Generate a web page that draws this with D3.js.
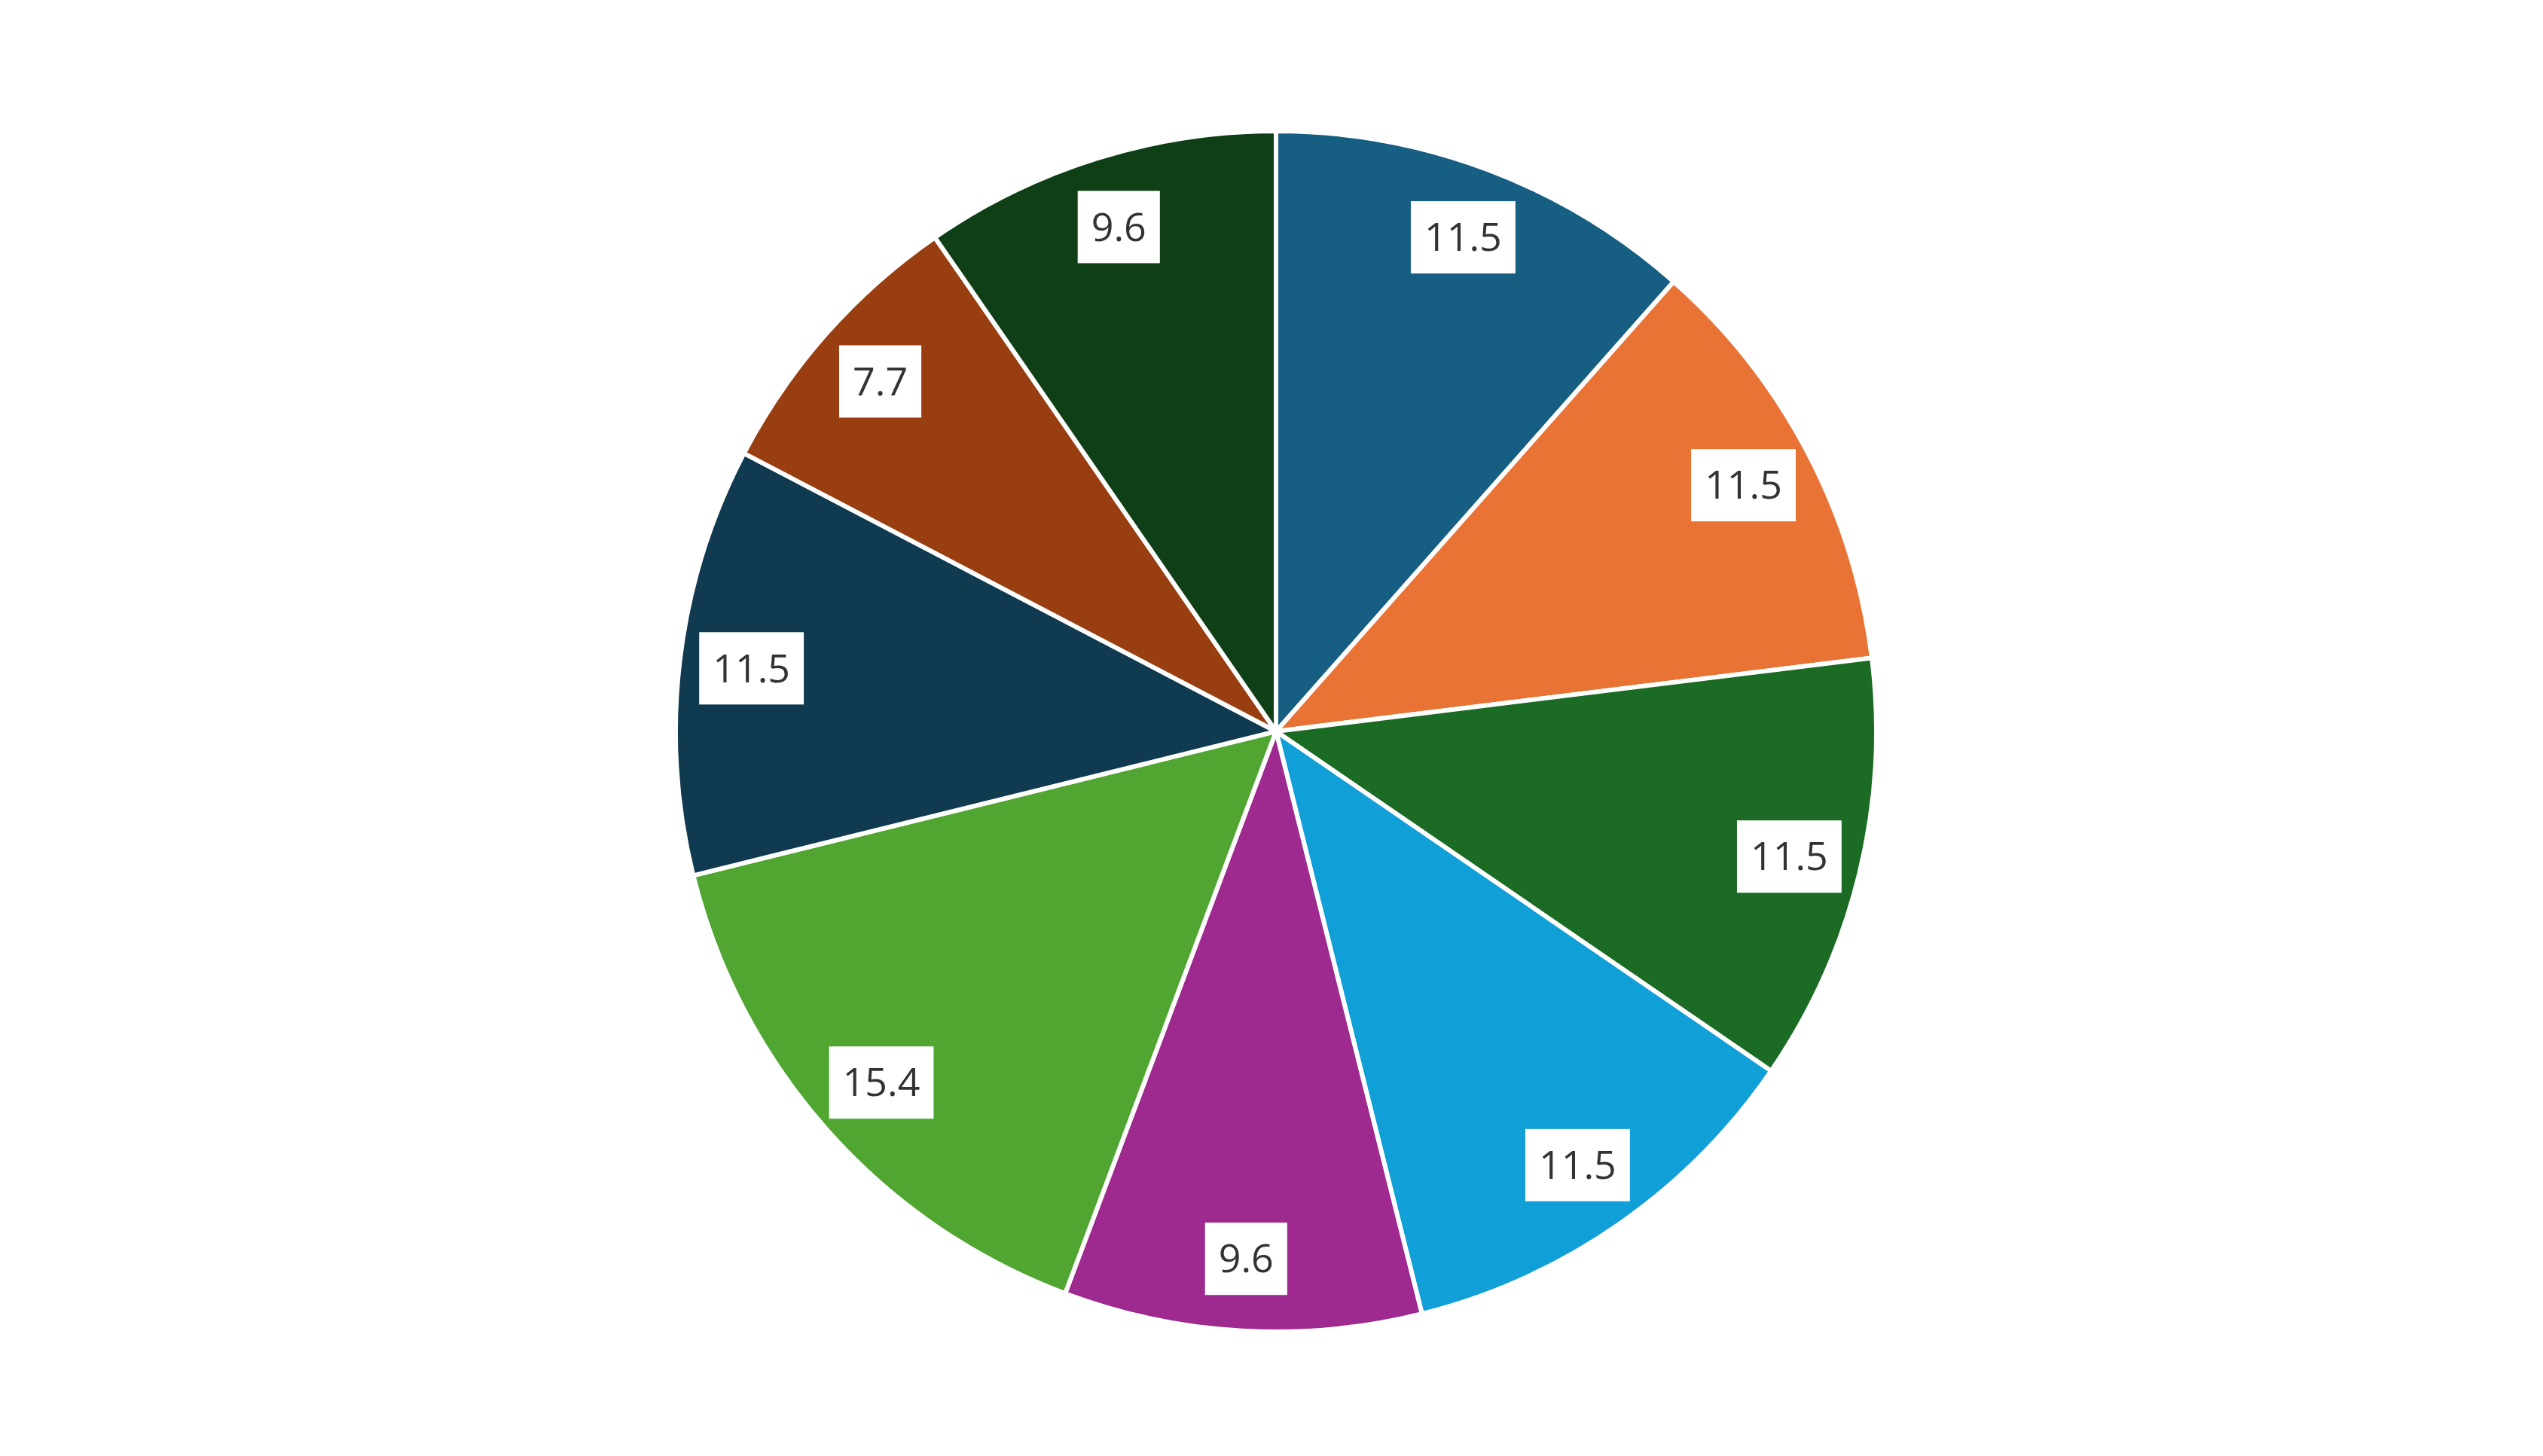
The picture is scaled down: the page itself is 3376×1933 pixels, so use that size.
<!DOCTYPE html>
<html>
<head>
<meta charset="utf-8">
<script src="https://cdn.jsdelivr.net/npm/d3@7"></script>
<style>
  body { margin: 0; background: #fff; }
  text { font-family: "Open Sans", "DejaVu Sans", sans-serif; }
</style>
</head>
<body>
<div id="chart"></div>
<script>
// slice values, clockwise from 12 o'clock
const labels = ["A", "B", "C", "D", "E", "F", "G", "H", "I"]
const values = [11.5, 11.5, 11.5, 11.5, 9.6, 15.4, 11.5, 7.7, 9.6]
const colors = ["#165f82", "#e87335", "#1b6b24", "#109fd6", "#9e2a8f", "#50a631", "#0f3a50", "#983e10", "#0f3f17"]

const width = 3376, height = 1933
const cx = 1694, cy = 971, radius = 797

const svg = d3.select("#chart")
    .append("svg")
    .attr("width", width)
    .attr("height", height)
    .append("g")
    .attr("transform", "translate(" + cx + "," + cy + ")")

const pie = d3.pie().sort(null).value(function (d) { return d })
const arcs = pie(values)
const arc = d3.arc().innerRadius(0).outerRadius(radius)
const labelArc = d3.arc().innerRadius(radius * 0.88).outerRadius(radius * 0.88)

svg.selectAll("path.slice")
    .data(arcs)
    .enter()
    .append("path")
    .attr("class", "slice")
    .attr("d", arc)
    .attr("fill", function (d, i) { return colors[i] })
    .attr("stroke", "#fff")
    .attr("stroke-width", 6)

const lab = svg.selectAll("g.lab")
    .data(arcs)
    .enter()
    .append("g")
    .attr("class", "lab")
    .attr("transform", function (d) { return "translate(" + labelArc.centroid(d) + ")" })

lab.append("text")
    .attr("text-anchor", "middle")
    .attr("dy", "0.35em")
    .attr("font-size", 52)
    .attr("fill", "#333")
    .text(function (d) { return d.data.toFixed(1) })
    .each(function () {
        const b = this.getBBox()
        d3.select(this.parentNode).insert("rect", "text")
            .attr("x", b.x - 18)
            .attr("y", -48)
            .attr("width", b.width + 36)
            .attr("height", 96)
            .attr("fill", "#fff")
    })
</script>
</body>
</html>
